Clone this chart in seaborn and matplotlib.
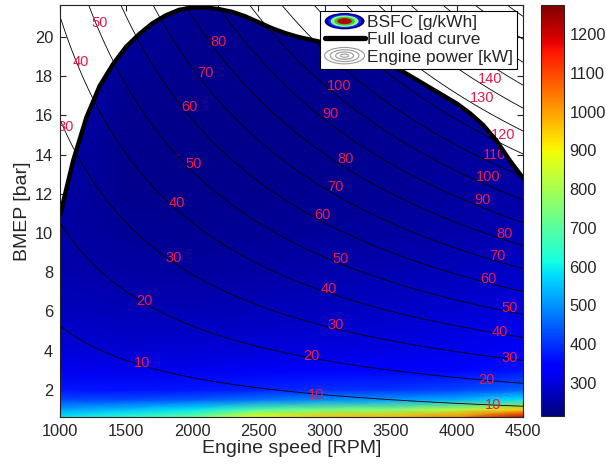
import numpy as np
import matplotlib
matplotlib.use("Agg")
import matplotlib.pyplot as plt
import matplotlib.patches as mpatches
from matplotlib.lines import Line2D
from matplotlib.legend_handler import HandlerBase
import seaborn as sns

# ---------------- data ----------------
speed_rpm = [1000, 1500, 2000, 2500, 3000, 3500, 4000, 4500]
bmep_bar = [0.62, 1.0, 1.5, 2.0, 3.0, 4.0, 6.0, 8.0, 10.0, 12.0, 14.0, 16.0, 18.0, 20.0, 21.63]

# BSFC [g/kWh], one row per BMEP value, one column per engine speed
bsfc_g_kwh = [
    [590, 640, 720, 900, 960, 975, 1030, 1200],
    [515, 550, 590, 690, 740, 760, 820, 950],
    [425, 425, 440, 470, 495, 505, 530, 590],
    [370, 365, 370, 382, 396, 404, 420, 455],
    [322, 316, 318, 324, 333, 340, 350, 365],
    [300, 293, 294, 298, 304, 310, 318, 330],
    [276, 268, 267, 270, 276, 282, 290, 302],
    [258, 250, 248, 251, 257, 263, 270, 282],
    [250, 238, 235, 238, 242, 248, 256, 266],
    [250, 230, 228, 230, 233, 238, 247, 256],
    [255, 228, 226, 228, 230, 234, 243, 252],
    [262, 230, 226, 227, 229, 233, 241, 250],
    [270, 234, 228, 228, 230, 235, 243, 252],
    [280, 240, 230, 230, 233, 238, 246, 256],
    [290, 246, 234, 233, 236, 242, 250, 260],
]

full_load_rpm = [1000, 1100, 1200, 1300, 1400, 1500, 1600, 1700, 1800, 1900, 2000,
                 2100, 2200, 2300, 2400, 2500, 2600, 2700, 2800, 2900, 3000,
                 3250, 3500, 3750, 3900, 4000, 4100, 4200, 4300, 4400, 4500]
full_load_bmep = [10.9, 13.7, 15.9, 17.5, 18.6, 19.5, 20.15, 20.7, 21.1, 21.38, 21.5,
                  21.5, 21.42, 21.28, 21.05, 20.75, 20.45, 20.2, 20.0, 19.85, 19.7,
                  19.2, 18.6, 17.6, 17.0, 16.6, 16.1, 15.5, 14.7, 13.7, 12.8]

displacement_l = 2.28
power_levels_kw = [10, 20, 30, 40, 50, 60, 70, 80, 90, 100, 110, 120, 130, 140,
                   150, 160, 170, 180]

# power-line labels: (speed, BMEP, kW)
power_labels = [
    (1302, 20.72, 50), (1159, 18.73, 40), (1045, 15.42, 30),
    (2202, 19.75, 80), (2096, 18.17, 70), (1975, 16.44, 60), (2013, 13.53, 50),
    (1882, 11.54, 40), (1862, 8.73, 30), (1635, 6.54, 20), (1620, 3.38, 10),
    (3109, 17.51, 100), (3046, 16.08, 90), (3162, 13.78, 80), (3079, 12.36, 70),
    (2987, 10.93, 60), (3122, 8.68, 50), (3029, 7.15, 40), (3085, 5.31, 30),
    (2897, 3.73, 20), (2935, 1.74, 10),
    (4250, 17.85, 140), (4190, 16.9, 130), (4348, 15.0, 120), (4288, 13.99, 110),
    (4235, 12.87, 100), (4197, 11.69, 90), (4364, 9.96, 80), (4303, 8.84, 70),
    (4238, 7.66, 60), (4401, 6.18, 50), (4326, 4.96, 40), (4401, 3.63, 30),
    (4227, 2.51, 20), (4273, 1.23, 10),
]

cbar_ticks = [300, 400, 500, 600, 700, 800, 900, 1000, 1100, 1200]

# ---------------- style ----------------
sns.set_style("white")
plt.rcParams["font.family"] = ["Liberation Sans", "DejaVu Sans"]
plt.rcParams["axes.linewidth"] = 0.8

fig = plt.figure(figsize=(6.06, 4.68), dpi=100)
ax = fig.add_axes([60 / 606, 51 / 468, 463 / 606, 412 / 468])
cax = fig.add_axes([541 / 606, 52 / 468, 23 / 606, 411 / 468])

# BSFC map, clipped to the full-load envelope
X, Y = np.meshgrid(speed_rpm, bmep_bar)
mesh = ax.pcolormesh(X, Y, np.array(bsfc_g_kwh, dtype=float), shading="gouraud",
                     cmap="jet", vmin=215, vmax=1275, zorder=1)
envelope = [(full_load_rpm[0], 0.0)] + list(zip(full_load_rpm, full_load_bmep)) + \
           [(full_load_rpm[-1], 0.0)]
clip = mpatches.Polygon(envelope, closed=True, transform=ax.transData,
                        facecolor="none", edgecolor="none")
ax.add_patch(clip)
mesh.set_clip_path(clip)

# constant-power lines: P[kW] = BMEP[bar] * Vd[l] * n[rpm] / 1200
n_grid, p_grid = np.meshgrid(np.linspace(1000, 4500, 300), np.linspace(0.3, 22, 300))
power_grid = p_grid * displacement_l * n_grid / 1200.0
ax.contour(n_grid, p_grid, power_grid, levels=power_levels_kw, colors="black",
           linewidths=0.6, zorder=2)

for n, p, kw in power_labels:
    ax.text(n, p, str(kw), color="#f01848", fontsize=10.5, ha="center", va="center",
            zorder=3, clip_on=True)

# full load curve
sns.lineplot(x=full_load_rpm, y=full_load_bmep, ax=ax, color="black", linewidth=3.2,
             zorder=4)

ax.set_xlim(1000, 4500)
ax.set_ylim(0.62, 21.63)
ax.set_xticks([1000, 1500, 2000, 2500, 3000, 3500, 4000, 4500])
ax.set_yticks([2, 4, 6, 8, 10, 12, 14, 16, 18, 20])
ax.tick_params(direction="in", bottom=True, left=True, top=True, right=True,
               length=4, width=0.8, color="#222222", labelsize=11.8, pad=5)
ax.set_xlabel("Engine speed [RPM]", fontsize=14, labelpad=1)
ax.set_ylabel("BMEP [bar]", fontsize=14, labelpad=3)
for s in ax.spines.values():
    s.set_color("#222222")
    s.set_zorder(6)

# colorbar
cb = fig.colorbar(mesh, cax=cax, ticks=cbar_ticks)
cb.outline.set_linewidth(0.8)
cax.tick_params(direction="in", left=True, right=True, length=3, width=0.8,
                color="#222222", labelsize=11.8, pad=4)


# ---------------- legend ----------------
class BsfcKey:
    pass


class PowerKey:
    pass


class HandlerRings(HandlerBase):
    def __init__(self, rings, filled):
        super().__init__()
        self.rings = rings
        self.filled = filled

    def create_artists(self, legend, orig_handle, xdescent, ydescent, width, height,
                       fontsize, trans):
        cx = width / 2 - xdescent
        cy = height / 2 - ydescent
        artists = []
        for scale, color in self.rings:
            if self.filled:
                e = mpatches.Ellipse((cx, cy), width * scale, height * 1.35 * scale,
                                     facecolor=color, edgecolor="none", transform=trans)
            else:
                e = mpatches.Ellipse((cx, cy), width * scale, height * 1.35 * scale,
                                     facecolor="none", edgecolor=color, linewidth=0.8,
                                     transform=trans)
            artists.append(e)
        return artists


bsfc_rings = [(1.0, "#00008c"), (0.84, "#1a1aff"), (0.7, "#80ff80"),
              (0.52, "#40c040"), (0.36, "#b80000")]
power_rings = [(1.0, "#9a9a9a"), (0.72, "#9a9a9a"), (0.45, "#9a9a9a"), (0.2, "#9a9a9a")]

handles = [BsfcKey(), Line2D([], [], color="black", linewidth=3.8), PowerKey()]
labels = ["BSFC [g/kWh]", "Full load curve", "Engine power [kW]"]
leg = ax.legend(handles, labels, loc="upper right", bbox_to_anchor=(0.987, 0.986),
                borderaxespad=0, fontsize=12.5, frameon=True, fancybox=False,
                edgecolor="black", framealpha=1, handlelength=2.3,
                handletextpad=0.12, labelspacing=0.12, borderpad=0.25,
                handler_map={BsfcKey: HandlerRings(bsfc_rings, True),
                             PowerKey: HandlerRings(power_rings, False)})
leg.get_frame().set_linewidth(0.8)
leg.set_zorder(10)

fig.savefig("out.png", dpi=100)
